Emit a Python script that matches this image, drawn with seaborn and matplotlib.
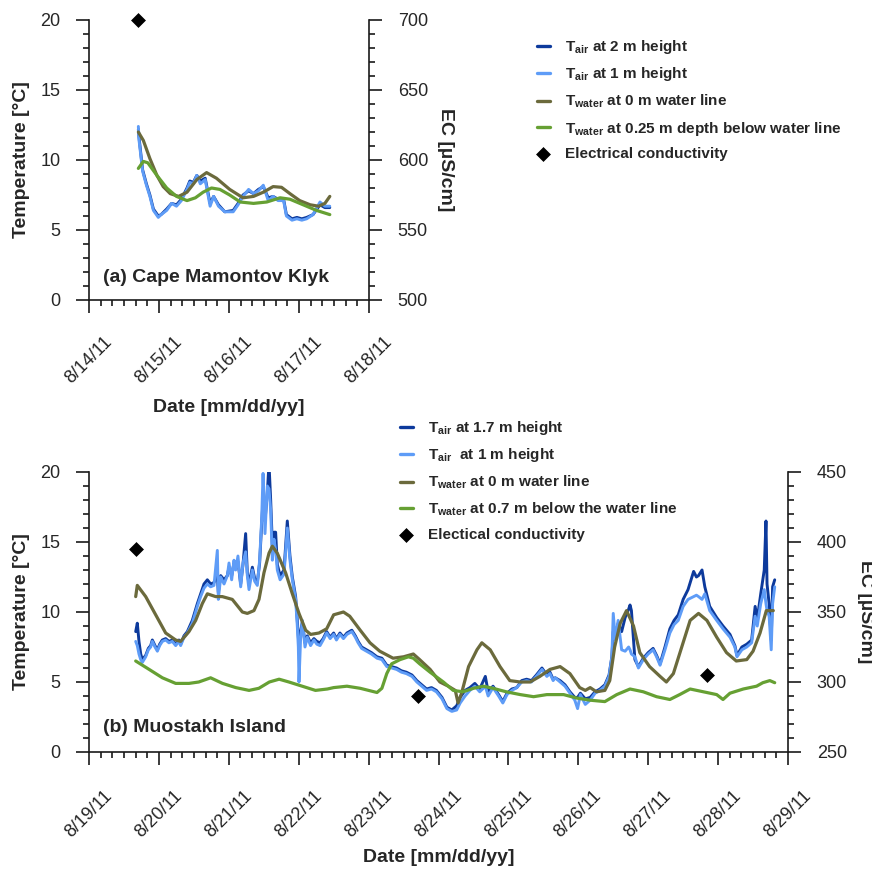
import numpy as np
import pandas as pd
import matplotlib
matplotlib.use("Agg")
import matplotlib.pyplot as plt
import matplotlib.dates as mdates
from matplotlib.ticker import MultipleLocator, FuncFormatter
import seaborn as sns

sns.set_style("ticks")
plt.rcParams["font.family"] = ["Liberation Sans", "DejaVu Sans"]
plt.rcParams["mathtext.fontset"] = "custom"
plt.rcParams["mathtext.rm"] = "Liberation Sans"
plt.rcParams["mathtext.bf"] = "Liberation Sans:bold"
plt.rcParams["mathtext.it"] = "Liberation Sans:italic"

# ---------------------------------------------------------------------------
# (a) Cape Mamontov Klyk -- times in days after 2011-08-14 00:00
# ---------------------------------------------------------------------------
start_a = "2011-08-14"
air_days_a = [0.705, 0.715, 0.766, 0.820, 0.870, 0.920, 0.990, 1.030, 1.110, 1.180,
              1.250, 1.320, 1.400, 1.440, 1.490, 1.540, 1.590, 1.660, 1.730, 1.780,
              1.850, 1.940, 2.060, 2.130, 2.200, 2.280, 2.350, 2.420, 2.490, 2.560,
              2.630, 2.700, 2.780, 2.820, 2.900, 2.970, 3.040, 3.110, 3.200, 3.300,
              3.370, 3.440]
air_1m_a = [12.4, 11.4, 9.2, 8.2, 7.4, 6.4, 5.9, 6.1, 6.4, 6.9,
            6.7, 7.1, 7.9, 8.4, 8.3, 8.9, 8.3, 8.6, 6.7, 7.4,
            6.7, 6.3, 6.3, 6.8, 7.4, 7.9, 7.6, 7.8, 8.2, 7.1,
            7.4, 7.1, 7.1, 6.0, 5.7, 5.8, 5.7, 5.8, 6.1, 7.0,
            6.7, 6.7]
air_2m_a = [12.2, 11.6, 9.3, 8.3, 7.5, 6.5, 6.0, 6.1, 6.5, 6.9,
            6.8, 7.2, 8.0, 8.5, 8.4, 8.9, 8.5, 8.7, 6.9, 7.4,
            6.8, 6.3, 6.4, 6.9, 7.5, 7.8, 7.6, 7.9, 8.1, 7.3,
            7.4, 7.2, 7.2, 6.1, 5.8, 5.9, 5.8, 5.9, 6.1, 6.8,
            6.6, 6.6]

wl_days_a = [0.705, 0.776, 0.870, 0.970, 1.060, 1.160, 1.280, 1.400, 1.540, 1.680,
             1.820, 2.010, 2.200, 2.350, 2.490, 2.630, 2.750, 2.870, 3.010, 3.160,
             3.280, 3.370, 3.440]
water_0m_a = [12.0, 11.4, 10.1, 8.9, 8.1, 7.6, 7.4, 7.7, 8.6, 9.1,
              8.7, 7.9, 7.3, 7.4, 7.7, 8.1, 8.05, 7.6, 7.1, 6.8,
              6.7, 6.9, 7.4]

deep_days_a = [0.705, 0.776, 0.840, 0.970, 1.110, 1.250, 1.400, 1.520, 1.630, 1.750,
               1.870, 2.010, 2.160, 2.350, 2.540, 2.730, 2.870, 3.060, 3.250, 3.440]
water_deep_a = [9.4, 9.9, 9.8, 8.9, 8.0, 7.4, 7.1, 7.3, 7.7, 8.0,
                7.9, 7.5, 7.0, 6.9, 7.0, 7.3, 7.2, 6.8, 6.4, 6.1]

ec_days_a = [0.70]
ec_a = [700]

# ---------------------------------------------------------------------------
# (b) Muostakh Island -- times in days after 2011-08-19 00:00
# ---------------------------------------------------------------------------
start_b = "2011-08-19"
air_days_b = [0.668, 0.691, 0.715, 0.740, 0.763, 0.811, 0.849, 0.882, 0.906, 0.944,
              0.978, 1.011, 1.049, 1.097, 1.144, 1.192, 1.240, 1.287, 1.311, 1.359,
              1.407, 1.478, 1.550, 1.597, 1.645, 1.693, 1.740, 1.788, 1.836, 1.850,
              1.884, 1.932, 1.979, 2.003, 2.041, 2.074, 2.098, 2.131, 2.170, 2.203,
              2.241, 2.265, 2.289, 2.337, 2.370, 2.408, 2.441, 2.470, 2.490, 2.518,
              2.551, 2.575, 2.599, 2.623, 2.646, 2.670, 2.694, 2.734, 2.790, 2.837,
              2.875, 2.909, 2.956, 2.980, 2.995, 3.004, 3.028, 3.052, 3.090, 3.123,
              3.170, 3.218, 3.260, 3.305, 3.350, 3.400, 3.450, 3.500, 3.540, 3.590,
              3.640, 3.690, 3.760, 3.810, 3.850, 3.900, 3.970, 4.040, 4.120, 4.190,
              4.260, 4.330, 4.400, 4.470, 4.540, 4.620, 4.690, 4.760, 4.830, 4.900,
              4.970, 5.050, 5.120, 5.190, 5.260, 5.310, 5.380, 5.450, 5.520, 5.590,
              5.670, 5.710, 5.780, 5.860, 5.920, 5.980, 6.050, 6.120, 6.190, 6.260,
              6.330, 6.400, 6.480, 6.550, 6.595, 6.640, 6.670, 6.740, 6.810, 6.880,
              6.950, 6.990, 7.030, 7.100, 7.170, 7.240, 7.310, 7.380, 7.440, 7.480,
              7.500, 7.530, 7.570, 7.620, 7.670, 7.720, 7.740, 7.760, 7.810, 7.860,
              7.930, 8.000, 8.070, 8.120, 8.170, 8.240, 8.310, 8.370, 8.430, 8.500,
              8.570, 8.650, 8.690, 8.720, 8.770, 8.810, 8.880, 8.980, 9.070, 9.170,
              9.240, 9.270, 9.340, 9.410, 9.480, 9.530, 9.560, 9.610, 9.660, 9.685,
              9.700, 9.730, 9.760, 9.780, 9.810]
air_1m_b = [7.9, 7.6, 7.0, 6.6, 6.4, 6.8, 7.3, 7.5, 7.9, 7.5,
            7.2, 7.6, 7.9, 8.0, 7.8, 7.9, 7.6, 7.9, 7.6, 8.2,
            8.5, 9.2, 10.4, 11.1, 11.7, 12.0, 11.8, 11.9, 14.4, 10.9,
            12.5, 12.0, 12.6, 13.5, 12.3, 13.7, 13.0, 14.0, 11.8, 13.5,
            14.3, 12.6, 11.6, 13.0, 12.2, 11.9, 13.7, 16.6, 19.9, 15.6,
            19.0, 18.8, 17.3, 13.7, 15.2, 14.4, 13.0, 12.3, 12.7, 16.0,
            13.7, 12.3, 10.9, 9.0, 7.5, 5.0, 8.2, 9.4, 7.5, 8.2,
            7.6, 8.0, 7.7, 7.6, 8.0, 8.5, 8.1, 8.4, 8.0, 8.4,
            8.1, 8.4, 8.6, 8.2, 7.8, 7.4, 7.2, 7.0, 6.7, 6.6,
            6.1, 6.0, 5.9, 5.7, 5.6, 5.4, 5.0, 4.7, 4.4, 4.5,
            4.3, 3.8, 3.1, 2.9, 3.0, 3.5, 4.0, 4.4, 4.7, 4.3,
            4.7, 4.0, 4.6, 4.0, 3.5, 4.1, 4.4, 4.6, 5.0, 5.1,
            5.0, 5.4, 5.9, 5.4, 5.6, 5.1, 5.3, 5.0, 4.7, 4.2,
            3.7, 3.1, 4.1, 3.4, 3.7, 4.2, 4.4, 4.7, 5.4, 6.8,
            9.9, 8.0, 9.4, 7.3, 7.2, 7.5, 7.3, 7.0, 6.8, 6.0,
            6.6, 7.0, 7.3, 6.8, 6.2, 7.3, 8.5, 9.1, 9.4, 10.4,
            10.9, 11.1, 11.2, 11.1, 10.9, 11.3, 10.1, 9.4, 8.8, 8.2,
            7.5, 6.8, 7.3, 7.5, 7.8, 9.7, 9.0, 10.6, 11.6, 10.6,
            10.1, 9.7, 7.3, 10.6, 11.8]
air_17m_b = [8.6, 9.2, 7.9, 7.0, 6.6, 6.9, 7.4, 7.6, 8.0, 7.6,
             7.3, 7.7, 8.0, 8.1, 7.9, 8.0, 7.7, 8.0, 7.7, 8.3,
             8.6, 9.4, 10.6, 11.3, 12.0, 12.3, 12.0, 12.1, 12.6, 11.4,
             12.6, 12.3, 12.6, 13.2, 12.6, 13.5, 13.3, 13.6, 12.0, 13.4,
             15.6, 12.8, 12.0, 13.2, 12.4, 12.1, 13.5, 16.3, 18.0, 16.5,
             18.5, 20.6, 18.0, 14.8, 15.7, 15.7, 13.4, 12.6, 13.0, 16.5,
             14.0, 12.5, 11.1, 9.4, 8.2, 7.5, 8.6, 9.3, 7.8, 8.3,
             7.8, 8.1, 7.9, 7.8, 8.1, 8.6, 8.2, 8.5, 8.1, 8.5,
             8.2, 8.5, 8.7, 8.3, 7.9, 7.5, 7.3, 7.1, 6.8, 6.7,
             6.2, 6.1, 6.0, 5.8, 5.7, 5.5, 5.1, 4.8, 4.5, 4.6,
             4.4, 3.9, 3.2, 3.0, 3.3, 3.9, 4.4, 4.6, 4.9, 4.5,
             5.4, 4.3, 4.7, 4.1, 3.6, 4.2, 4.5, 4.6, 5.1, 5.2,
             5.1, 5.5, 6.0, 5.5, 5.7, 5.2, 5.3, 5.1, 4.8, 4.3,
             3.9, 3.9, 4.2, 3.8, 3.9, 4.3, 4.5, 4.8, 5.5, 6.8,
             8.6, 8.3, 9.2, 8.6, 9.6, 10.2, 10.5, 10.1, 6.6, 6.1,
             6.7, 7.1, 7.4, 6.9, 6.3, 7.5, 8.8, 9.4, 9.8, 10.9,
             11.6, 12.9, 12.5, 12.6, 13.0, 11.8, 10.4, 9.6, 9.0, 8.4,
             7.6, 6.9, 7.5, 7.7, 8.0, 10.4, 9.5, 11.3, 13.0, 16.5,
             12.0, 10.6, 8.0, 11.8, 12.3]

wl_days_b = [0.668, 0.691, 0.811, 0.954, 1.097, 1.240, 1.311, 1.430, 1.526, 1.621,
             1.693, 1.812, 1.907, 2.050, 2.194, 2.265, 2.360, 2.432, 2.503, 2.575,
             2.623, 2.694, 2.813, 2.909, 3.004, 3.100, 3.171, 3.290, 3.400, 3.500,
             3.640, 3.730, 3.880, 4.020, 4.160, 4.350, 4.500, 4.640, 4.730, 4.880,
             5.020, 5.140, 5.240, 5.280, 5.330, 5.430, 5.550, 5.620, 5.740, 5.880,
             6.020, 6.170, 6.310, 6.450, 6.595, 6.740, 6.880, 7.020, 7.100, 7.170,
             7.260, 7.380, 7.450, 7.520, 7.600, 7.690, 7.790, 7.880, 8.020, 8.170,
             8.260, 8.360, 8.480, 8.600, 8.720, 8.840, 8.980, 9.120, 9.260, 9.410,
             9.500, 9.600, 9.690, 9.790]
water_0m_b = [11.1, 11.9, 11.1, 9.8, 8.5, 8.0, 7.9, 8.6, 9.4, 10.6,
              11.3, 11.1, 11.1, 10.9, 10.0, 9.9, 10.1, 10.9, 12.8, 14.2,
              14.7, 14.2, 12.8, 11.3, 9.9, 8.7, 8.4, 8.5, 8.8, 9.8,
              10.0, 9.7, 8.7, 7.8, 7.2, 6.7, 6.8, 7.0, 6.6, 5.9,
              5.0, 4.7, 4.4, 3.5, 4.2, 6.1, 7.3, 7.8, 7.3, 6.1,
              5.1, 5.0, 5.0, 5.4, 5.9, 6.1, 5.6, 4.6, 4.4, 4.6,
              4.3, 4.4, 5.1, 7.5, 9.2, 10.1, 9.0, 7.1, 6.1, 5.4,
              5.0, 5.6, 7.5, 9.4, 9.9, 9.4, 8.2, 7.1, 6.5, 6.6,
              7.2, 8.5, 10.1, 10.1]

deep_days_b = [0.668, 0.700, 0.860, 1.050, 1.240, 1.430, 1.570, 1.740, 1.910, 2.100,
               2.290, 2.430, 2.580, 2.720, 2.860, 3.050, 3.240, 3.410, 3.500, 3.690,
               3.880, 4.120, 4.190, 4.260, 4.330, 4.450, 4.570, 4.640, 4.730, 4.880,
               5.070, 5.210, 5.350, 5.500, 5.640, 5.780, 5.970, 6.170, 6.360, 6.550,
               6.710, 6.790, 6.980, 7.170, 7.380, 7.550, 7.740, 7.930, 8.120, 8.310,
               8.450, 8.600, 8.790, 8.980, 9.070, 9.170, 9.360, 9.550, 9.640, 9.740,
               9.810]
water_deep_b = [6.5, 6.4, 5.9, 5.3, 4.9, 4.9, 5.0, 5.3, 4.9, 4.6,
                4.4, 4.55, 5.0, 5.2, 5.0, 4.7, 4.4, 4.5, 4.6, 4.7,
                4.55, 4.25, 4.55, 5.6, 6.3, 6.6, 6.8, 6.7, 6.3, 5.7,
                5.0, 4.4, 4.3, 4.55, 4.7, 4.55, 4.3, 4.1, 3.95, 4.1,
                4.1, 4.1, 3.85, 3.7, 3.6, 4.1, 4.5, 4.3, 3.95, 3.75,
                4.1, 4.5, 4.3, 4.1, 3.75, 4.2, 4.5, 4.7, 4.95, 5.1,
                4.95]

ec_days_b = [0.67, 4.71, 8.84]
ec_b = [395, 290, 305]

# ---------------------------------------------------------------------------
C_AIR_HI = "#0d3a9c"
C_AIR_LO = "#5e9cf7"
C_WATER0 = "#6b6a3c"
C_WATERD = "#66a033"
TICK_FS = 13
LABEL_FS = 14
W, H = 872, 869
INK = "#1a1a1a"


def to_time(start, days):
    return pd.Timestamp(start) + pd.to_timedelta(np.asarray(days, dtype=float), unit="D")


def date_label(v, pos):
    d = mdates.num2date(v)
    return f"{d.month}/{d.day}/{d:%y}"


def draw_panel(ax, start, air_days, air_hi, air_lo, wl_days, w0, deep_days, wd,
               ec_days, ec, labels):
    sns.lineplot(x=to_time(start, air_days), y=air_hi, ax=ax, color=C_AIR_HI, lw=2.1,
                 sort=False, estimator=None, label=labels[0])
    sns.lineplot(x=to_time(start, air_days), y=air_lo, ax=ax, color=C_AIR_LO, lw=2.1,
                 sort=False, estimator=None, label=labels[1])
    sns.lineplot(x=to_time(start, wl_days), y=w0, ax=ax, color=C_WATER0, lw=2.3,
                 sort=False, estimator=None, label=labels[2])
    sns.lineplot(x=to_time(start, deep_days), y=wd, ax=ax, color=C_WATERD, lw=2.3,
                 sort=False, estimator=None, label=labels[3])
    ax2 = ax.twinx()
    sns.scatterplot(x=to_time(start, ec_days), y=ec, ax=ax2, marker="D", s=50,
                    color="black", edgecolor="black", linewidth=0.5,
                    label=labels[4], clip_on=False, zorder=6)
    return ax2


def style_panel(ax, ax2, start, end, ec_lim, ec_major, date_pad):
    ax.set_xlim(pd.Timestamp(start), pd.Timestamp(end))
    ax.set_ylim(0, 20)
    ax2.set_ylim(*ec_lim)
    ax.xaxis.set_major_locator(mdates.DayLocator())
    ax.xaxis.set_minor_locator(mdates.HourLocator(byhour=range(0, 24, 4)))
    ax.xaxis.set_major_formatter(FuncFormatter(date_label))
    ax.yaxis.set_major_locator(MultipleLocator(5))
    ax.yaxis.set_minor_locator(MultipleLocator(1))
    ax2.yaxis.set_major_locator(MultipleLocator(ec_major))
    ax2.yaxis.set_minor_locator(MultipleLocator(10))
    for s in ("top", "right"):
        ax.spines[s].set_visible(False)
    for s in ("top", "left", "bottom"):
        ax2.spines[s].set_visible(False)
    for a in (ax, ax2):
        for sp in a.spines.values():
            sp.set_linewidth(1.2)
            sp.set_color(INK)
    ax.tick_params(axis="both", which="major", direction="out", length=9.7, width=1.2,
                   labelsize=TICK_FS, color=INK, pad=11)
    ax.tick_params(axis="both", which="minor", direction="out", length=4.5, width=1.2,
                   color=INK)
    ax.tick_params(axis="x", which="major", labelrotation=45, pad=date_pad)
    ax.tick_params(axis="y", which="both", right=False)
    ax2.tick_params(axis="y", which="major", direction="out", length=9.7, width=1.2,
                    labelsize=TICK_FS, color=INK, pad=11)
    ax2.tick_params(axis="y", which="minor", direction="out", length=4.5, width=1.2,
                    color=INK)
    ax.set_xlabel("Date [mm/dd/yy]", fontsize=LABEL_FS, fontweight="bold")
    ax.set_ylabel("Temperature [°C]", fontsize=LABEL_FS, fontweight="bold")
    ax2.set_ylabel("EC [µS/cm]", fontsize=LABEL_FS, fontweight="bold", rotation=270)
    ax.yaxis.label.set_va("center")
    ax2.yaxis.label.set_va("center")
    ax.xaxis.label.set_va("center")
    ax.grid(False)
    ax2.grid(False)
    for a in (ax, ax2):
        leg = a.get_legend()
        if leg is not None:
            leg.remove()


fig = plt.figure(figsize=(W / 100, H / 100), dpi=100)
ax_a = fig.add_axes([89 / W, 1 - 300 / H, 280 / W, 280 / H])
ax_b = fig.add_axes([89 / W, 1 - 752 / H, 699 / W, 280 / H])

labels_a = [r"T$_{\mathbf{air}}$ at 2 m height",
            r"T$_{\mathbf{air}}$ at 1 m height",
            r"T$_{\mathbf{water}}$ at 0 m water line",
            r"T$_{\mathbf{water}}$ at 0.25 m depth below water line",
            "Electrical conductivity"]
labels_b = [r"T$_{\mathbf{air}}$ at 1.7 m height",
            r"T$_{\mathbf{air}}$  at 1 m height",
            r"T$_{\mathbf{water}}$ at 0 m water line",
            r"T$_{\mathbf{water}}$ at 0.7 m below the water line",
            "Electical conductivity"]

ax2_a = draw_panel(ax_a, start_a, air_days_a, air_2m_a, air_1m_a, wl_days_a, water_0m_a,
                   deep_days_a, water_deep_a, ec_days_a, ec_a, labels_a)
ax2_b = draw_panel(ax_b, start_b, air_days_b, air_17m_b, air_1m_b, wl_days_b, water_0m_b,
                   deep_days_b, water_deep_b, ec_days_b, ec_b, labels_b)

style_panel(ax_a, ax2_a, "2011-08-14", "2011-08-18", (500, 700), 50, 14.5)
style_panel(ax_b, ax2_b, "2011-08-19", "2011-08-29", (250, 450), 50, 15.5)

ax_a.xaxis.set_label_coords(0.5, (300 - 408) / 280)
ax_a.yaxis.set_label_coords((22 - 89) / 280, 0.5)
ax2_a.yaxis.set_label_coords((445 - 89) / 280, 0.5)
ax_b.xaxis.set_label_coords(0.5, (752 - 857) / 280)
ax_b.yaxis.set_label_coords((22 - 89) / 699, 0.5)
ax2_b.yaxis.set_label_coords((865 - 89) / 699, 0.5)

ax_a.text(0.05, 0.082, "(a) Cape Mamontov Klyk", transform=ax_a.transAxes,
          fontsize=LABEL_FS, fontweight="bold", va="center", ha="left")
ax_b.text(0.02, 0.086, "(b) Muostakh Island", transform=ax_b.transAxes,
          fontsize=LABEL_FS, fontweight="bold", va="center", ha="left")

leg_kw = dict(loc="upper left", frameon=False, prop={"weight": "bold", "size": 11},
              handlelength=0.85, handletextpad=1.0, labelspacing=0.62,
              borderaxespad=0, borderpad=0, markerscale=1.0)
for ax, ax2, anchor in ((ax_a, ax2_a, (537 / W, 1 - 38 / H)),
                        (ax_b, ax2_b, (400 / W, 1 - 419 / H))):
    h1, l1 = ax.get_legend_handles_labels()
    h2, l2 = ax2.get_legend_handles_labels()
    leg = fig.legend(h1 + h2, l1 + l2, bbox_to_anchor=anchor, **leg_kw)
    for ln in leg.get_lines():
        ln.set_linewidth(2.4)

fig.savefig("out.png", dpi=100)
